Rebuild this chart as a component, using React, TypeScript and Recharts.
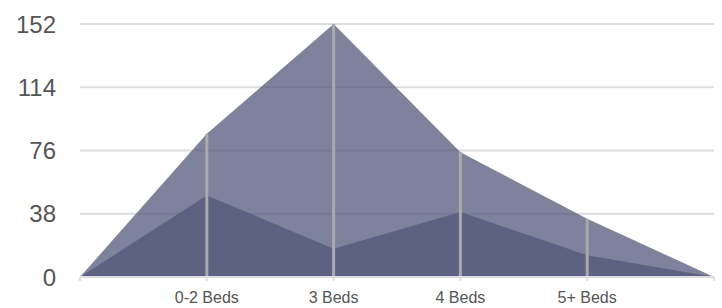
import { AreaChart, Area, XAxis, YAxis, CartesianGrid, ReferenceLine } from "recharts"

const labels = ["", "0-2 Beds", "3 Beds", "4 Beds", "5+ Beds", " "]
const totalHomes = [0, 86, 152, 75, 35, 0]
const soldHomes = [0, 49, 17, 39, 13, 0]
const yTicks = [0, 38, 76, 114, 152]

const data = labels.map((label, i) => ({ label, total: totalHomes[i], sold: soldHomes[i] }))

const tickStyle = { fill: "#555", fontFamily: "'Liberation Sans', Arial, sans-serif" }

export default function App() {
  return (
    <div style={{ position: "absolute", left: 0, top: 0 }}>
      <AreaChart width={722} height={308} data={data} margin={{ top: 24, right: 8, left: 0, bottom: 1 }}>
        <CartesianGrid vertical={false} stroke="#ddd" strokeWidth={2} />
        <XAxis
          dataKey="label"
          height={30}
          interval={0}
          stroke="#ddd"
          strokeWidth={2}
          tickSize={4}
          tickMargin={11}
          tick={{ ...tickStyle, fontSize: 16 }}
        />
        <YAxis
          width={80}
          domain={[0, 152]}
          ticks={yTicks}
          axisLine={false}
          tickLine={false}
          tickMargin={18}
          tick={{ ...tickStyle, fontSize: 24 }}
        />
        <Area
          type="linear"
          dataKey="total"
          stroke="none"
          fill="#52567a"
          fillOpacity={0.74}
          isAnimationActive={false}
        />
        <Area
          type="linear"
          dataKey="sold"
          stroke="none"
          fill="#52567a"
          fillOpacity={0.74}
          isAnimationActive={false}
        />
        {data
          .filter((d) => d.label.trim() !== "")
          .map((d) => (
            <ReferenceLine
              key={d.label}
              segment={[
                { x: d.label, y: 0 },
                { x: d.label, y: d.total },
              ]}
              stroke="#aaa"
              strokeWidth={3}
            />
          ))}
      </AreaChart>
    </div>
  )
}
